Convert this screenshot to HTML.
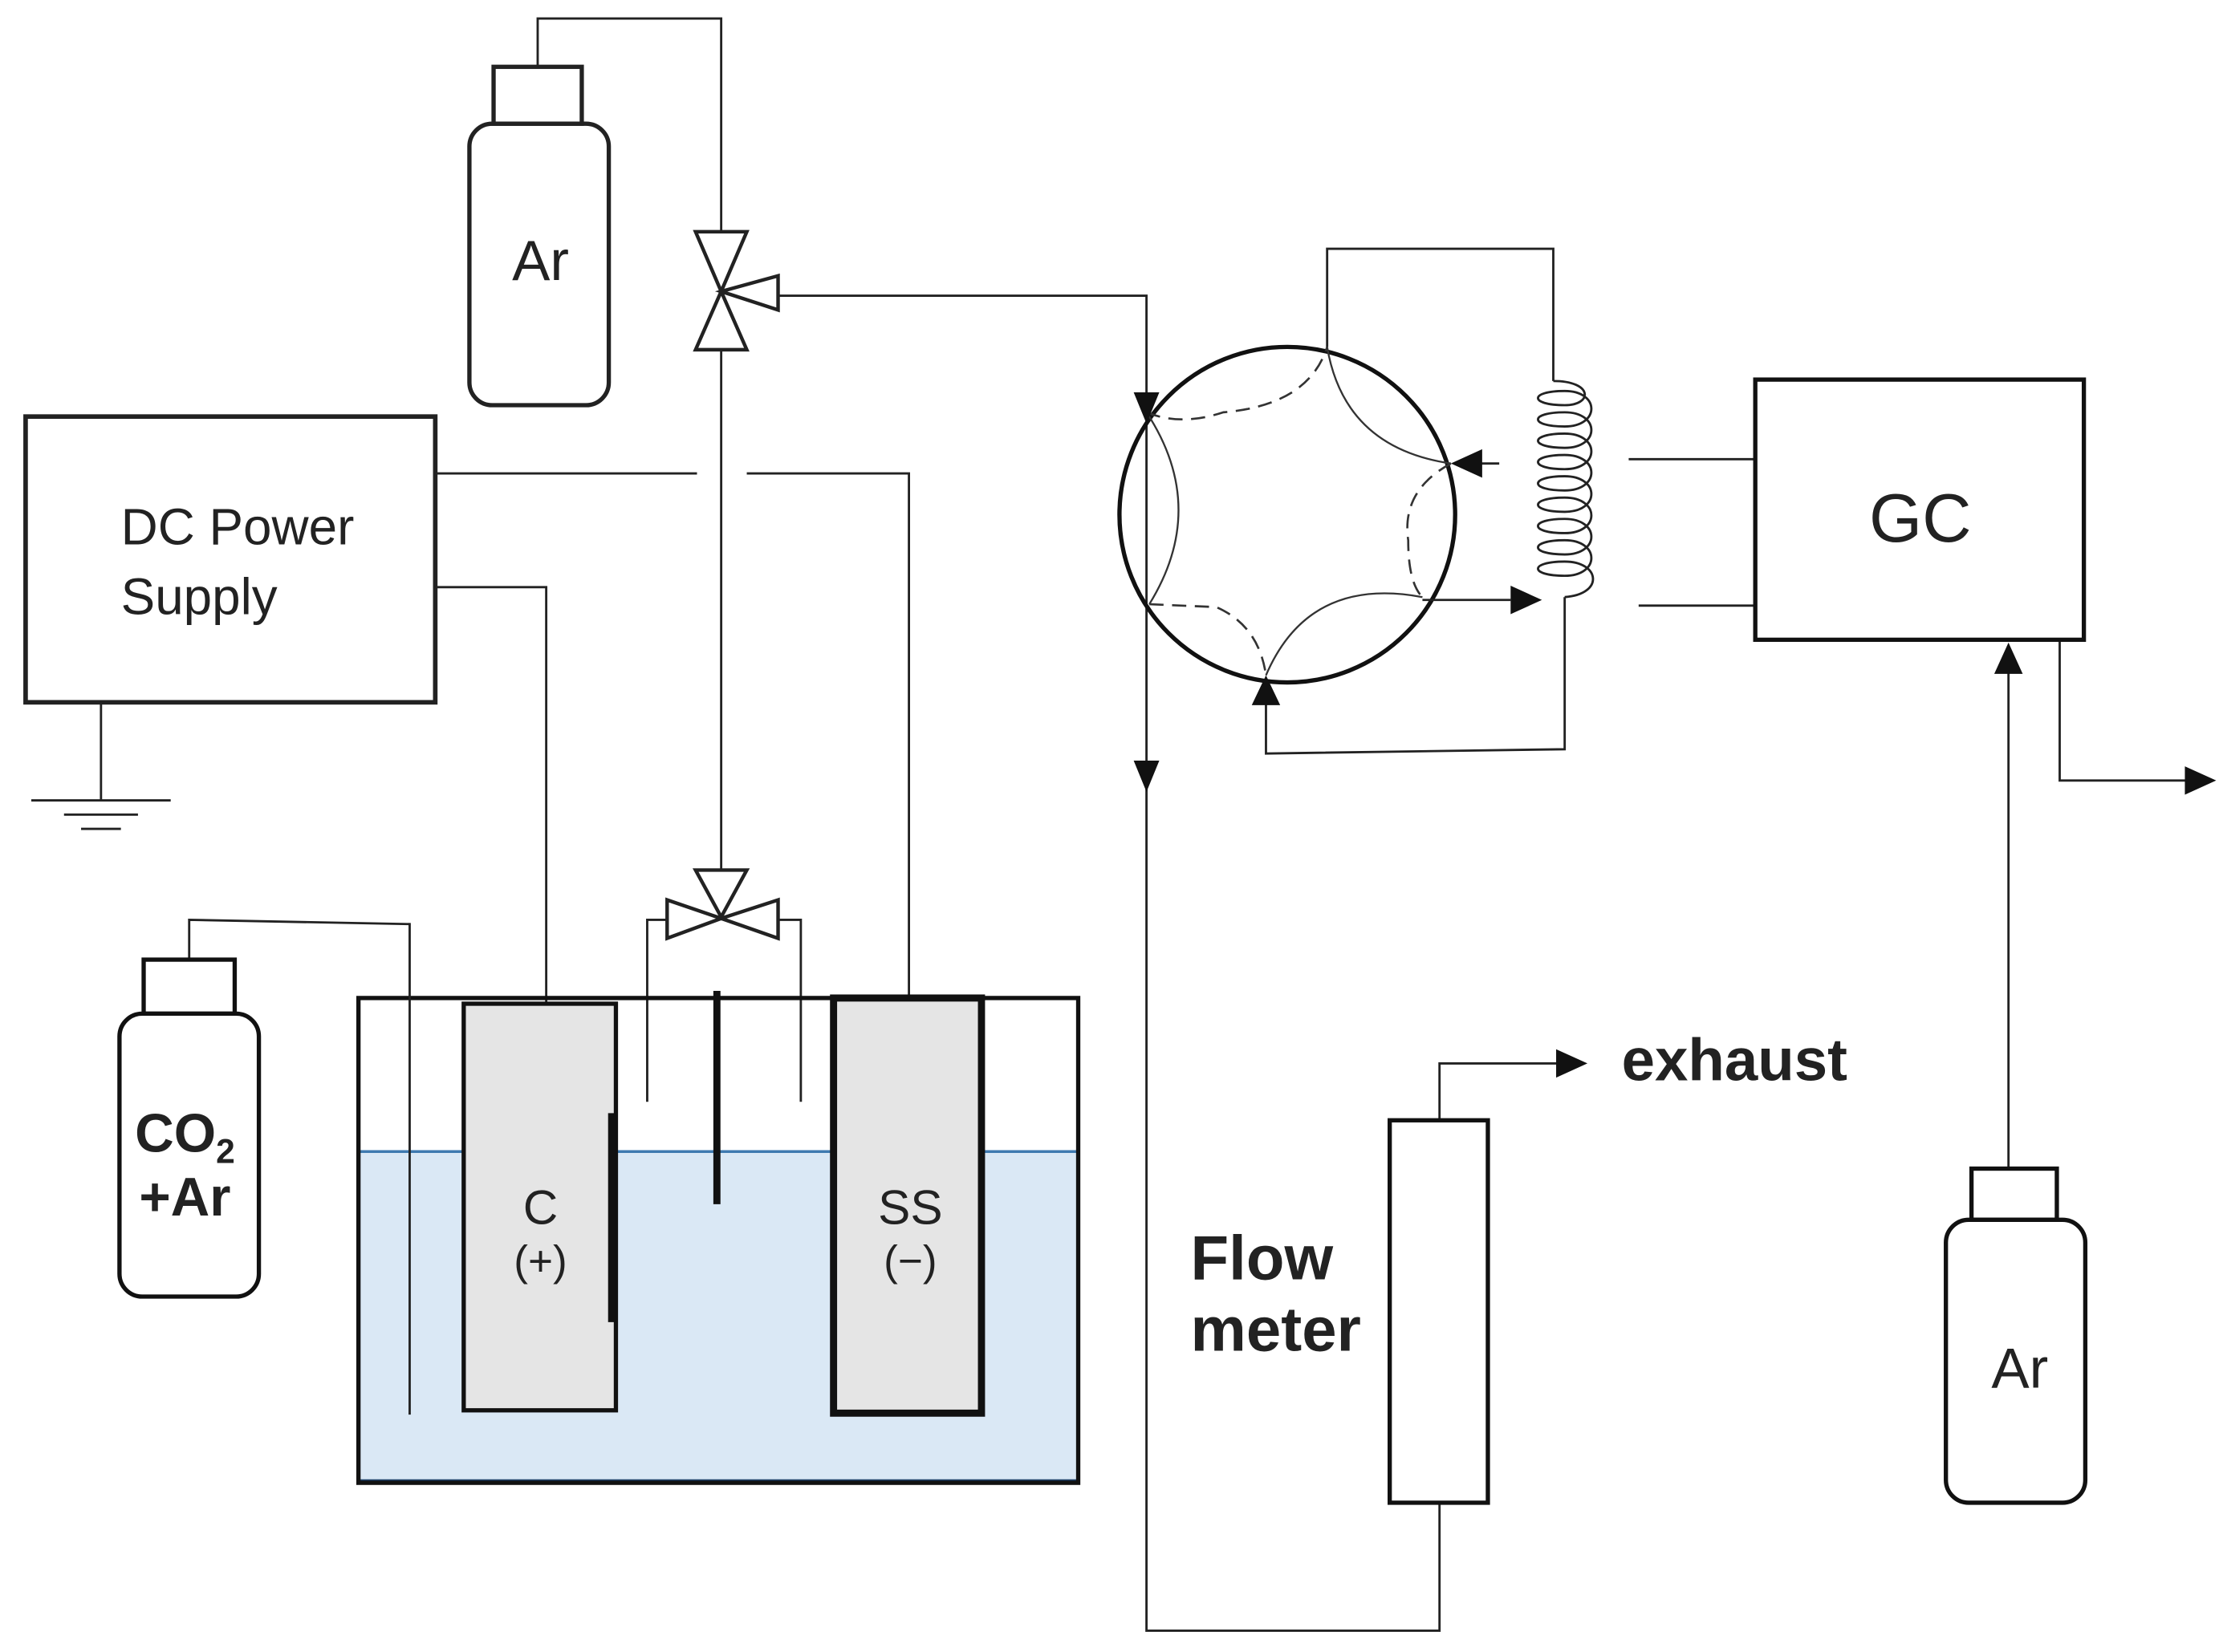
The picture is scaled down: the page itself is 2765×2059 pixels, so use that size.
<!DOCTYPE html>
<html><head><meta charset="utf-8"><style>html,body{margin:0;padding:0;background:#fff}svg{display:block}</style></head>
<body>
<svg width="2765" height="2059" viewBox="0 0 1560 1162" preserveAspectRatio="none" xmlns="http://www.w3.org/2000/svg" font-family="'Liberation Sans', sans-serif">
<g fill="none" stroke="#222" stroke-width="1.6">
<!-- Ar top bottle -->
<rect x="347" y="47" width="62" height="40" stroke-width="3"/>
<rect x="330" y="87" width="98" height="198" rx="16" stroke-width="3"/>
<polyline points="378,47 378,13 507,13 507,163"/>
<!-- top valve -->
<polygon points="489,163 525,163 507,205" stroke-width="2.5" fill="#fff"/>
<polygon points="489,246 525,246 507,205" stroke-width="2.5" fill="#fff"/>
<polygon points="507,205 547,194 547,218" stroke-width="2.5" fill="#fff"/>
<polyline points="547,208 806,208 806,1147 1012,1147 1012,1057"/>
<line x1="507" y1="246" x2="507" y2="612"/>
<!-- lower valve -->
<polygon points="489,612 525,612 507,645" stroke-width="2.5" fill="#fff"/>
<polygon points="469,633 469,660 507,646" stroke-width="2.5" fill="#fff"/>
<polygon points="547,633 547,660 507,646" stroke-width="2.5" fill="#fff"/>
<polyline points="469,647 455,647 455,775"/>
<polyline points="547,647 563,647 563,775"/>
<!-- DC supply -->
<rect x="18" y="293" width="288" height="201" stroke-width="3.2"/>
<polyline points="71,494 71,563"/>
<line x1="22" y1="563" x2="120" y2="563"/>
<line x1="45" y1="573" x2="97" y2="573"/>
<line x1="57" y1="583" x2="85" y2="583"/>
<line x1="306" y1="333" x2="490" y2="333"/>
<polyline points="525,333 639,333 639,702"/>
<polyline points="306,413 384,413 384,706"/>
</g>
<!-- cell -->
<rect x="252" y="810" width="506" height="233" fill="#dae8f5"/>
<line x1="252" y1="810" x2="758" y2="810" stroke="#3f7ab0" stroke-width="2"/>
<line x1="252" y1="1042" x2="758" y2="1042" stroke="#1d3f66" stroke-width="3"/>
<rect x="252" y="702" width="506" height="341" fill="none" stroke="#111" stroke-width="3"/>
<rect x="326" y="706" width="107" height="286" fill="#e5e5e5" stroke="#111" stroke-width="3"/>
<line x1="430" y1="783" x2="430" y2="930" stroke="#111" stroke-width="5"/>
<rect x="586" y="702" width="104" height="292" fill="#e5e5e5" stroke="#111" stroke-width="5"/>
<line x1="504" y1="697" x2="504" y2="847" stroke="#111" stroke-width="5"/>
<polyline points="133,675 133,647 288,650 288,995" fill="none" stroke="#222" stroke-width="1.6"/>
<!-- CO2 bottle -->
<rect x="101" y="675" width="64" height="38" fill="#fff" stroke="#111" stroke-width="3"/>
<rect x="84" y="713" width="98" height="199" rx="16" fill="#fff" stroke="#111" stroke-width="3"/>
<!-- six-port valve -->
<circle cx="905" cy="362" r="118" fill="none" stroke="#111" stroke-width="3"/>
<g fill="none" stroke="#333" stroke-width="1.3">
<path d="M933,244 Q945,315 1020,326"/>
<path d="M806,290 Q850,357 808,425"/>
<path d="M890,475 Q920,405 1000,420"/>
</g>
<g fill="none" stroke="#333" stroke-width="1.5" stroke-dasharray="10,6">
<path d="M806,290 Q830,300 860,290 Q920,285 933,244"/>
<path d="M1020,326 Q985,345 990,380 Q990,410 1000,420"/>
<path d="M808,425 L855,427 Q885,440 890,475"/>
</g>
<g fill="none" stroke="#222" stroke-width="1.6">
<polyline points="933,244 933,175 1092,175 1092,268"/>
<line x1="1040" y1="326" x2="1054" y2="326"/>
<line x1="1000" y1="422" x2="1062" y2="422"/>
<polyline points="1100,420 1100,527 890,530 890,495"/>
<line x1="1145" y1="323" x2="1234" y2="323"/>
<line x1="1152" y1="426" x2="1234" y2="426"/>
<line x1="1412" y1="822" x2="1412" y2="470"/>
<polyline points="1448,450 1448,549 1540,549"/>
<polyline points="1012,788 1012,748 1095,748"/>
<!-- coil -->
<path d="M1092,268 C1120,268 1120,285 1100,285 C1075,285 1075,275 1100,275 C1125,275 1125,300 1100,300 C1075,300 1075,290 1100,290 C1125,290 1125,315 1100,315 C1075,315 1075,305 1100,305 C1125,305 1125,330 1100,330 C1075,330 1075,320 1100,320 C1125,320 1125,345 1100,345 C1075,345 1075,335 1100,335 C1125,335 1125,360 1100,360 C1075,360 1075,350 1100,350 C1125,350 1125,375 1100,375 C1075,375 1075,365 1100,365 C1125,365 1125,390 1100,390 C1075,390 1075,380 1100,380 C1125,380 1125,405 1100,405 C1075,405 1075,395 1100,395 C1125,395 1128,418 1100,420"/>
</g>
<rect x="1234" y="267" width="231" height="183" fill="none" stroke="#111" stroke-width="3"/>
<rect x="1386" y="822" width="60" height="36" fill="#fff" stroke="#111" stroke-width="3"/>
<rect x="1368" y="858" width="98" height="199" rx="16" fill="#fff" stroke="#111" stroke-width="3"/>
<rect x="977" y="788" width="69" height="269" fill="#fff" stroke="#111" stroke-width="3"/>
<!-- arrowheads -->
<g fill="#111">
<polygon points="797,276 815,276 806,298"/>
<polygon points="797,535 815,535 806,557"/>
<polygon points="1020,326 1042,316 1042,336"/>
<polygon points="1084,422 1062,412 1062,432"/>
<polygon points="890,475 880,496 900,496"/>
<polygon points="1412,452 1402,474 1422,474"/>
<polygon points="1558,549 1536,539 1536,559"/>
<polygon points="1116,748 1094,738 1094,758"/>
</g>
<!-- text -->
<g fill="#222" text-anchor="middle">
<text x="380" y="197" font-size="40">Ar</text>
<text x="1420" y="976" font-size="40">Ar</text>
<text x="1350" y="381" font-size="48">GC</text>
<text x="380" y="861" font-size="34">C</text>
<text x="380" y="897" font-size="30">(+)</text>
<text x="640" y="861" font-size="34">SS</text>
<text x="640" y="897" font-size="30">(−)</text>
<text x="130" y="810" font-size="38" font-weight="bold">CO<tspan font-size="24" dy="8">2</tspan></text>
<text x="130" y="855" font-size="38" font-weight="bold">+Ar</text>
</g>
<g fill="#222">
<text x="85" y="383" font-size="36">DC Power</text>
<text x="85" y="432" font-size="36">Supply</text>
<text x="1140" y="760" font-size="42" font-weight="bold">exhaust</text>
<text x="837" y="900" font-size="44" font-weight="bold">Flow</text>
<text x="837" y="950" font-size="44" font-weight="bold">meter</text>
</g>
</svg>
</body></html>
